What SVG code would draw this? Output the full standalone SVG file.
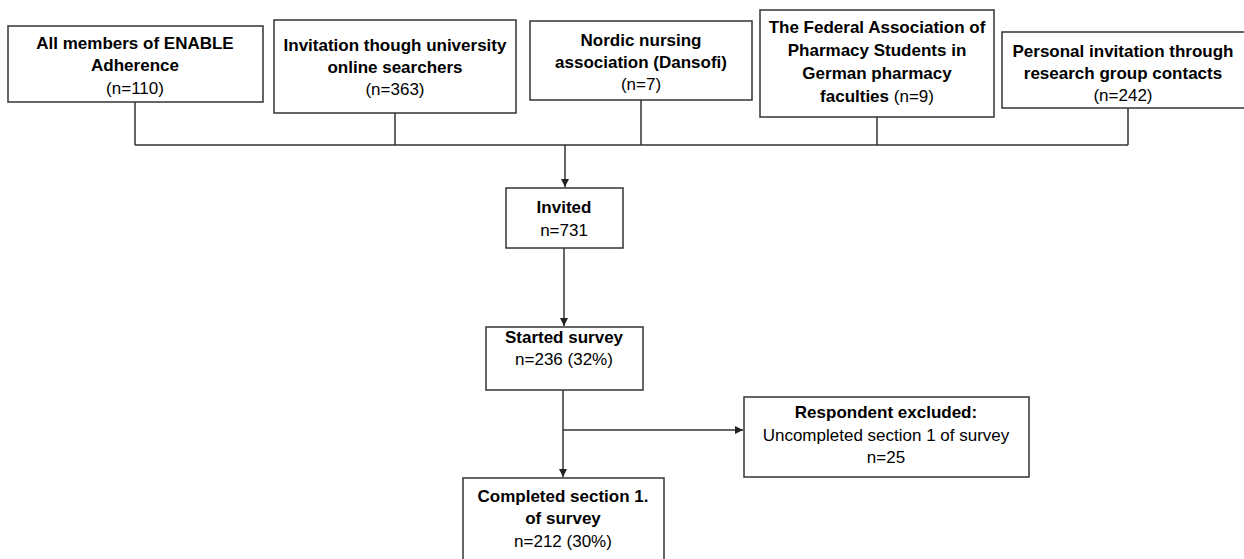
<svg xmlns="http://www.w3.org/2000/svg" width="1244" height="559" viewBox="0 0 1244 559">
<defs>
<style>
.box{fill:#fff;stroke:#333;stroke-width:1.5}
.ln{fill:none;stroke:#333;stroke-width:1.5}
text{font-family:"Liberation Sans",Arial,sans-serif;font-size:17px;fill:#000;text-anchor:middle}
.b{font-weight:bold}
</style>
<marker id="ah" viewBox="0 0 10 10" refX="10" refY="5" markerWidth="8" markerHeight="8" markerUnits="userSpaceOnUse" orient="auto">
<path d="M0,0 L10,5 L0,10 z" fill="#222"/>
</marker>
</defs>
<rect width="1244" height="559" fill="#fff"/>
<g id="connectors">
<path class="ln" d="M135,102 V145 M395,113 V145 M641,100 V145 M877,117 V145 M1128,108 V145 M135,145 H1128"/>
<path class="ln" d="M565,145 V187" marker-end="url(#ah)"/>
<path class="ln" d="M564,248 V326" marker-end="url(#ah)"/>
<path class="ln" d="M563,390 V477" marker-end="url(#ah)"/>
<path class="ln" d="M563,430 H743" marker-end="url(#ah)"/>
</g>
<g id="n1">
<rect class="box" x="8" y="26" width="255" height="76"/>
<text x="135" y="49" class="b">All members of ENABLE</text>
<text x="135" y="71" class="b">Adherence</text>
<text x="135" y="94">(n=110)</text>
</g>
<g id="n2">
<rect class="box" x="274" y="20" width="242" height="93"/>
<text x="395" y="51" class="b">Invitation though university</text>
<text x="395" y="73" class="b">online searchers</text>
<text x="395" y="95">(n=363)</text>
</g>
<g id="n3">
<rect class="box" x="530" y="21" width="222" height="79"/>
<text x="641" y="46" class="b">Nordic nursing</text>
<text x="641" y="68" class="b">association (Dansofi)</text>
<text x="641" y="90">(n=7)</text>
</g>
<g id="n4">
<rect class="box" x="760" y="10" width="234" height="107"/>
<text x="877" y="33" class="b">The Federal Association of</text>
<text x="877" y="56" class="b">Pharmacy Students in</text>
<text x="877" y="79" class="b">German pharmacy</text>
<text x="877" y="102"><tspan class="b">faculties</tspan> (n=9)</text>
</g>
<g id="n5">
<rect class="box" x="1002" y="32" width="245" height="76"/>
<text x="1123" y="57" class="b">Personal invitation through</text>
<text x="1123" y="79" class="b">research group contacts</text>
<text x="1123" y="101">(n=242)</text>
</g>
<g id="n6">
<rect class="box" x="506" y="188" width="117" height="60"/>
<text x="564" y="213" class="b">Invited</text>
<text x="564" y="236">n=731</text>
</g>
<g id="n7">
<rect class="box" x="486" y="327" width="157" height="63"/>
<text x="564" y="343" class="b">Started survey</text>
<text x="564" y="365">n=236 (32%)</text>
</g>
<g id="n8">
<rect class="box" x="744" y="397" width="285" height="80"/>
<text x="886" y="418" class="b">Respondent excluded:</text>
<text x="886" y="441">Uncompleted section 1 of survey</text>
<text x="886" y="463">n=25</text>
</g>
<g id="n9">
<rect class="box" x="463" y="478" width="201" height="90"/>
<text x="563" y="502" class="b">Completed section 1.</text>
<text x="563" y="524" class="b">of survey</text>
<text x="563" y="547">n=212 (30%)</text>
</g>
</svg>
